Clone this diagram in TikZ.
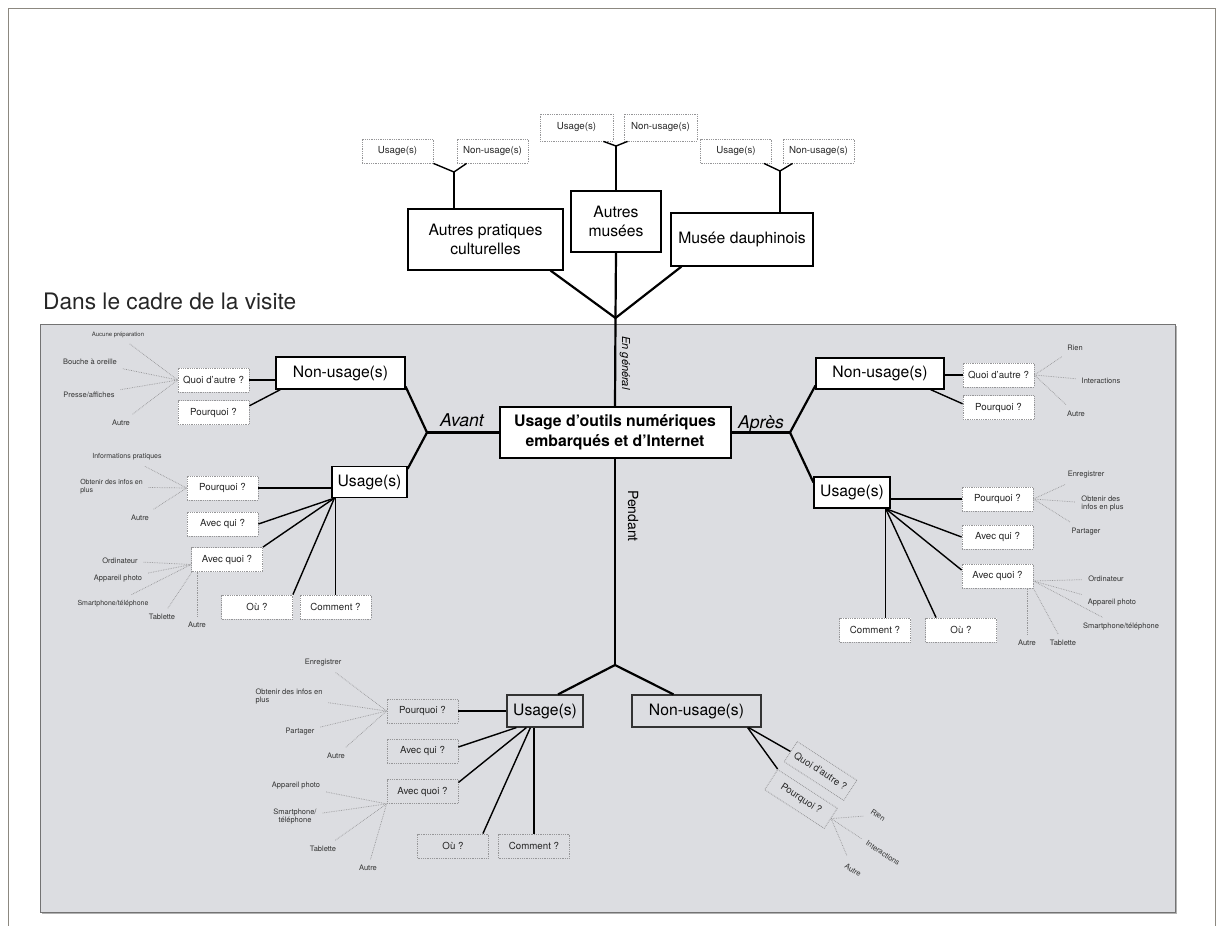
\documentclass[tikz,border=0pt]{standalone}
\usepackage{fontspec}
\setmainfont{TeX Gyre Heros}
\usepackage{xcolor}
\usepackage{tikz}
\usetikzlibrary{shapes,positioning}
\definecolor{panelgray}{RGB}{220,221,225}
\definecolor{dotgray}{RGB}{150,150,152}
\definecolor{framegray}{RGB}{140,136,128}

\begin{document}
\begin{tikzpicture}[x=1pt, y=-1pt]
    \tikzstyle{bigbox} = [rectangle, draw=black, line width=1.2pt, fill=white, inner sep=0pt, align=center, font=\fontsize{15.7}{18.5}\selectfont]
    \tikzstyle{qbox} = [rectangle, draw=dotgray, densely dotted, line width=0.8pt, fill=white, minimum width=71pt, minimum height=24pt, inner sep=0pt, text=black!85, font=\fontsize{9.7}{11}\selectfont]
    \tikzstyle{leaf} = [inner sep=1pt, outer sep=5pt, align=left, text=black!80, font=\fontsize{7.5}{8}\selectfont]
    \tikzstyle{twig} = [dotgray, densely dotted, line width=0.7pt]
    \tikzstyle{branch} = [line width=1.4pt]
    \tikzstyle{trunk} = [line width=2.2pt]
    \tikzstyle{phaselabel} = [inner sep=1pt, font=\fontsize{17.6}{20}\selectfont\itshape]

    \useasboundingbox (0,0) rectangle (1221,926);
    \draw [framegray, line width=0.8pt] (8,926) -- (8,8) -- (1215,8) -- (1215,926);
    \fill [black!30] (42,326) rectangle (1177,914);
    \draw [fill=panelgray, draw=black!55, line width=0.8pt] (40,324) rectangle (1175,912);
    \node (cadre) [anchor=west, inner sep=0pt, text=black!85, font=\fontsize{22.7}{26}\selectfont] at (43,301) {Dans le cadre de la visite};

    \node (apc) [bigbox, minimum width=155pt, minimum height=61pt] at (485.5,239.5) {Autres pratiques\\culturelles};
    \node (amu) [bigbox, minimum width=90pt, minimum height=61pt] at (616,221.5) {Autres\\musées};
    \node (mda) [bigbox, minimum width=142pt, minimum height=53pt] at (742,239.5) {Musée dauphinois};
    \node (apcU) [qbox] at (397.5,151) {Usage(s)};
    \node (apcN) [qbox] at (492.5,151) {Non-usage(s)};
    \node (amuU) [qbox, minimum width=73pt, minimum height=27pt] at (576.5,127.5) {Usage(s)};
    \node (amuN) [qbox, minimum width=73pt, minimum height=27pt] at (660.5,127.5) {Non-usage(s)};
    \node (mdaU) [qbox] at (736,151) {Usage(s)};
    \node (mdaN) [qbox] at (818.5,151) {Non-usage(s)};
    \coordinate (apcJ) at (454,172);
    \coordinate (amuJ) at (616,146);
    \coordinate (mdaJ) at (780,171);
    \coordinate (jTop) at (615.5,318);

    \draw [branch] (apcJ) -- (apcJ |- apc.north);
    \draw [branch] (apcJ) -- (apcU.south east);
    \draw [branch] (apcJ) -- ([xshift=10pt]apcN.south west);
    \draw [branch] (amuJ) -- (amu.north);
    \draw [branch] (amuJ) -- ([xshift=-10pt]amuU.south east);
    \draw [branch] (amuJ) -- ([xshift=4pt]amuN.south west);
    \draw [branch] (mdaJ) -- (mdaJ |- mda.north);
    \draw [branch] (mdaJ) -- ([xshift=-8pt]mdaU.south east);
    \draw [branch] (mdaJ) -- ([xshift=10pt]mdaN.south west);

    \node (ctr) [bigbox, line width=2pt, minimum width=231pt, minimum height=51pt, font=\fontsize{15.8}{20}\selectfont\bfseries] at (615,432.5) {Usage d’outils numériques\\embarqués et d’Internet};
    \draw [trunk] (jTop) -- ([xshift=-13pt]apc.south east);
    \draw [trunk] (jTop) -- (amu.south);
    \draw [trunk] (jTop) -- ([xshift=11pt]mda.south west);
    \draw [trunk] (jTop) -- (ctr.north);
    \node (general) [inner sep=0pt, rotate=-90, font=\fontsize{11}{12}\selectfont\itshape] at (625,363) {En général};

    \coordinate (jAv) at (427,432.5);
    \node (avant) [phaselabel] at (462,420) {Avant};
    \node (nonAv) [bigbox, minimum width=129pt, minimum height=32pt] at (340.5,373) {Non-usage(s)};
    \node (usAv) [bigbox, minimum width=75pt, minimum height=31pt] at (369.5,482) {Usage(s)};
    \draw [trunk] (ctr.west) -- (jAv);
    \draw [trunk] (jAv) -- ([yshift=3pt]nonAv.south east);
    \draw [trunk] (jAv) -- ([yshift=-3pt]usAv.north east);

    \node (autreAv) [qbox] at (213.5,380) {Quoi d'autre ?};
    \node (pourqNAv) [qbox, below=8pt of autreAv] {Pourquoi ?};
    \draw [branch] (autreAv.east) -- (autreAv.east -| nonAv.west);
    \draw [branch] ([yshift=7pt]pourqNAv.east) -- ([xshift=5pt]nonAv.south west);
    \node (aucAv) [leaf, font=\fontsize{6}{7}\selectfont] at (118,335) {Aucune préparation};
    \node (boucheAv) [leaf] at (90,362) {Bouche à oreille};
    \node (presseAv) [leaf] at (89,395) {Presse/affiches};
    \node (autAv1) [leaf] at (121,423) {Autre};
    \draw [twig] (aucAv) -- (autreAv.west);
    \draw [twig] (boucheAv) -- (autreAv.west);
    \draw [twig] (presseAv) -- (autreAv.west);
    \draw [twig] (autAv1) -- (autreAv.west);

    \node (pourqAv) [qbox] at (222.5,488) {Pourquoi ?};
    \node (quiAv) [qbox] at (222.5,524) {Avec qui ?};
    \node (avecAv) [qbox] at (227,559.5) {Avec quoi ?};
    \node (ouAv) [qbox] at (257,607) {Où ?};
    \node (commAv) [qbox] at (335.5,607) {Comment ?};
    \draw [branch] (pourqAv.east) -- (pourqAv.east -| usAv.west);
    \draw [branch] (quiAv.east) -- ([xshift=3pt]usAv.south west);
    \draw [branch] (avecAv.north east) -- ([xshift=3pt]usAv.south west);
    \draw [branch] (ouAv.north east) -- ([xshift=3pt]usAv.south west);
    \draw [branch] (commAv.north) -- (commAv.north |- usAv.south);
    \node (infoAv) [leaf, font=\fontsize{7}{8}\selectfont] at (127,457) {Informations pratiques};
    \node (obtAv) [leaf, font=\fontsize{7}{8}\selectfont] at (111.5,487) {Obtenir des infos en\\plus};
    \node (autAv2) [leaf] at (140,518) {Autre};
    \draw [twig] (infoAv) -- (pourqAv.west);
    \draw [twig] (obtAv) -- (pourqAv.west);
    \draw [twig] (autAv2) -- (pourqAv.west);
    \node (ordAv) [leaf] at (120,561) {Ordinateur};
    \node (appAv) [leaf] at (118,579) {Appareil photo};
    \node (smAv) [leaf, font=\fontsize{7}{8}\selectfont] at (113,604) {Smartphone/téléphone};
    \node (tabAv) [leaf] at (162,617) {Tablette};
    \node (autAv3) [leaf] at (197,625) {Autre};
    \draw [twig] (ordAv) -- ([yshift=-5pt]avecAv.west);
    \draw [twig] (appAv) -- ([yshift=-5pt]avecAv.west);
    \draw [twig] (smAv) -- ([yshift=-5pt]avecAv.west);
    \draw [twig] (tabAv) -- ([xshift=1pt]avecAv.south west);
    \draw [twig] (autAv3) -- (autAv3 |- avecAv.south);

    \coordinate (jAp) at (790,432.5);
    \node (apres) [phaselabel] at (761,424) {Après};
    \node (nonAp) [bigbox, minimum width=128pt, minimum height=31pt] at (880,373.5) {Non-usage(s)};
    \node (usAp) [bigbox, minimum width=76pt, minimum height=31pt] at (852,492.5) {Usage(s)};
    \draw [trunk] (ctr.east) -- (jAp);
    \draw [trunk] (jAp) -- ([yshift=4pt]nonAp.south west);
    \draw [trunk] (jAp) -- ([yshift=-6pt]usAp.north west);

    \node (autreAp) [qbox] at (998.5,375) {Quoi d'autre ?};
    \node (pourqNAp) [qbox, below=8pt of autreAp] {Pourquoi ?};
    \draw [branch] (autreAp.west -| nonAp.east) -- (autreAp.west);
    \draw [branch] ([xshift=-14pt]nonAp.south east) -- ([yshift=4pt]pourqNAp.west);
    \node (rienAp) [leaf] at (1075,348) {Rien};
    \node (interAp) [leaf] at (1101,381) {Interactions};
    \node (autAp1) [leaf] at (1076,414) {Autre};
    \draw [twig] (autreAp.east) -- (rienAp);
    \draw [twig] (autreAp.east) -- (interAp);
    \draw [twig] (autreAp.east) -- (autAp1);

    \node (pourqAp) [qbox] at (997.5,499) {Pourquoi ?};
    \node (quiAp) [qbox] at (997.5,537) {Avec qui ?};
    \node (avecAp) [qbox] at (997.5,576) {Avec quoi ?};
    \node (commAp) [qbox] at (875,630) {Comment ?};
    \node (ouAp) [qbox] at (961,630) {Où ?};
    \draw [branch] (pourqAp.west -| usAp.east) -- (pourqAp.west);
    \draw [branch] ([xshift=-5pt]usAp.south east) -- (quiAp.west);
    \draw [branch] ([xshift=-5pt]usAp.south east) -- ([yshift=6pt]avecAp.west);
    \draw [branch] ([xshift=-5pt]usAp.south east) -- ([xshift=11pt]ouAp.north west);
    \draw [branch] ([xshift=-5pt]usAp.south east) -- ([xshift=-5pt]usAp.south east |- commAp.north);
    \node (enrAp) [leaf] at (1086,475) {Enregistrer};
    \node (obtAp) [leaf] at (1102.5,504) {Obtenir des\\infos en plus};
    \node (partAp) [leaf] at (1086,532) {Partager};
    \draw [twig] (pourqAp.east) -- (enrAp);
    \draw [twig] (pourqAp.east) -- (obtAp);
    \draw [twig] (pourqAp.east) -- (partAp);
    \node (ordAp) [leaf] at (1106,579) {Ordinateur};
    \node (appAp) [leaf] at (1112,603) {Appareil photo};
    \node (smAp) [leaf] at (1121,627) {Smartphone/téléphone};
    \node (tabAp) [leaf] at (1063,643) {Tablette};
    \node (autAp2) [leaf] at (1027,643) {Autre};
    \draw [twig] ([yshift=-5pt]avecAp.east) -- (ordAp);
    \draw [twig] ([yshift=-5pt]avecAp.east) -- (appAp);
    \draw [twig] ([yshift=-5pt]avecAp.east) -- (smAp);
    \draw [twig] (avecAp.south east) -- (tabAp);
    \draw [twig] (autAp2) -- (autAp2 |- avecAp.south);

    \coordinate (jPe) at (615,665);
    \node (pendant) [inner sep=0pt, rotate=-90, font=\fontsize{14}{16}\selectfont] at (633,516) {Pendant};
    \node (usPe) [bigbox, fill=none, draw=black!80, minimum width=76pt, minimum height=32pt] at (545,711) {Usage(s)};
    \node (nonPe) [bigbox, fill=none, draw=black!80, minimum width=129pt, minimum height=32pt] at (696.5,711) {Non-usage(s)};
    \draw [trunk] (ctr.south) -- (jPe);
    \draw [trunk] (jPe) -- ([xshift=13pt]usPe.north);
    \draw [trunk] (jPe) -- ([xshift=-23pt]nonPe.north);

    \node (pourqPe) [qbox, fill=none] at (422.5,711) {Pourquoi ?};
    \node (quiPe) [qbox, fill=none] at (422.5,751) {Avec qui ?};
    \node (avecPe) [qbox, fill=none] at (422.5,791.5) {Avec quoi ?};
    \node (ouPe) [qbox, fill=none] at (453,846) {Où ?};
    \node (commPe) [qbox, fill=none] at (534,846) {Comment ?};
    \draw [branch] (pourqPe.east) -- (pourqPe.east -| usPe.west);
    \draw [branch] ([yshift=4pt]quiPe.east) -- ([xshift=10pt]usPe.south west);
    \draw [branch] ([yshift=9pt]avecPe.east) -- ([xshift=20pt]usPe.south west);
    \draw [branch] ([xshift=-6pt]ouPe.north east) -- ([xshift=24pt]usPe.south west);
    \draw [branch] (commPe.north) -- (commPe.north |- usPe.south);
    \node (enrPe) [leaf] at (323,663) {Enregistrer};
    \node (obtPe) [leaf] at (289,697) {Obtenir des infos en\\plus};
    \node (partPe) [leaf] at (300,732) {Partager};
    \node (autPe1) [leaf] at (336,756) {Autre};
    \draw [twig] (enrPe) -- (pourqPe.west);
    \draw [twig] (obtPe) -- (pourqPe.west);
    \draw [twig] (partPe) -- (pourqPe.west);
    \draw [twig] (autPe1) -- (pourqPe.west);
    \node (appPe) [leaf] at (296,786) {Appareil photo};
    \node (smPe) [leaf, align=center] at (295,817) {Smartphone/\\téléphone};
    \node (tabPe) [leaf] at (323,849) {Tablette};
    \node (autPe2) [leaf] at (368,868) {Autre};
    \draw [twig] (appPe) -- (avecPe.south west);
    \draw [twig] (smPe) -- (avecPe.south west);
    \draw [twig] (tabPe) -- (avecPe.south west);
    \draw [twig] (autPe2) -- (avecPe.south west);

    \node (autrePe) [qbox, fill=none, rotate=-33] at (820.5,771) {Quoi d'autre ?};
    \node (pourqNPe) [qbox, fill=none, rotate=-33] at (801,799) {Pourquoi ?};
    \draw [branch] ([xshift=-13pt]nonPe.south east) -- (autrePe.west);
    \draw [branch] ([xshift=-14pt]nonPe.south east) -- (pourqNPe.north west);
    \node (rienPe) [leaf, rotate=-33] at (878,815) {Rien};
    \node (interPe) [leaf, rotate=-33] at (883,853) {Interactions};
    \node (autPe3) [leaf, rotate=-33] at (853,870) {Autre};
    \draw [twig] (pourqNPe.east) -- (rienPe);
    \draw [twig] (pourqNPe.east) -- (interPe);
    \draw [twig] (pourqNPe.east) -- (autPe3);
\end{tikzpicture}
\end{document}
